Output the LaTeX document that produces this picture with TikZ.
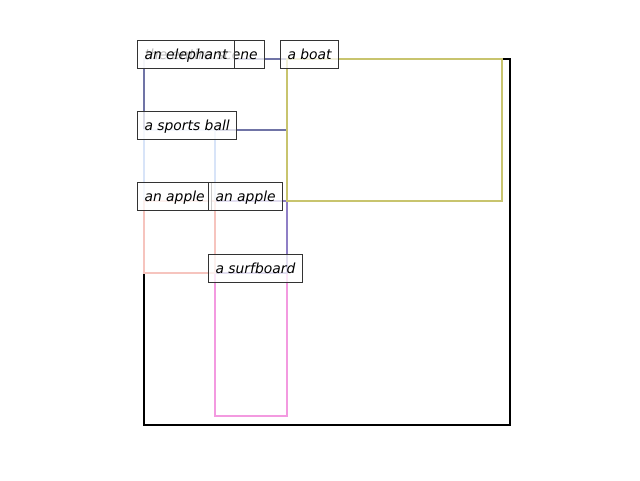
\documentclass[tikz,border=0pt]{standalone}
\usepackage{fontspec}
\setmainfont{DejaVu Sans}
\newfontfamily\lblfont{DejaVu Sans}[ItalicFont={DejaVu Sans Oblique}]
\definecolor{cScene}{RGB}{0,0,0}
\definecolor{cEleph}{RGB}{112,116,166}
\definecolor{cBall}{RGB}{216,228,248}
\definecolor{cBoat}{RGB}{200,196,110}
\definecolor{cAppleA}{RGB}{246,196,190}
\definecolor{cAppleB}{RGB}{143,127,198}
\definecolor{cSurf}{RGB}{243,154,224}
\tikzset{
  bbox/.style={line width=1.65pt},
  lbl/.style={draw=black!80, line width=0.8pt, fill=white, fill opacity=0.75, text opacity=1,
    font=\lblfont\fontsize{10.4}{12}\selectfont\itshape, anchor=west,
    inner xsep=5.25pt, inner ysep=0pt, minimum height=21pt, text depth=0pt}
}
\begin{document}
\begin{tikzpicture}[x=0.75pt,y=-0.75pt]
\useasboundingbox (0,0) rectangle (640,480);
\fill[white] (0,0) rectangle (640,480);
% boxes
\draw[bbox, cScene] (144,59) rectangle (510,425);
\draw[bbox, cEleph] (144,59) rectangle (287,130);
\draw[bbox, cBall] (144,130) rectangle (215,201);
\draw[bbox, cSurf] (215,273) rectangle (287,416);
\draw[bbox, cAppleB] (215,201) rectangle (287,273);
\draw[bbox, cAppleA] (144,201) rectangle (215,273);
\draw[bbox, cBoat] (287,59) rectangle (502,201);
% labels
\node[lbl] (lScene) at (137,54.5) {the entire scene};
\node[lbl] (lEleph) at (137,54.5) {an elephant};
\node[lbl] (lBall) at (137,125.5) {a sports ball};
\node[lbl] (lBoat) at (280,54.5) {a boat};
\node[lbl] (lAppleA) at (137,196.5) {an apple};
\node[lbl] (lAppleB) at (208,196.5) {an apple};
\node[lbl] (lSurf) at (208,268.5) {a surfboard};
\end{tikzpicture}
\end{document}
